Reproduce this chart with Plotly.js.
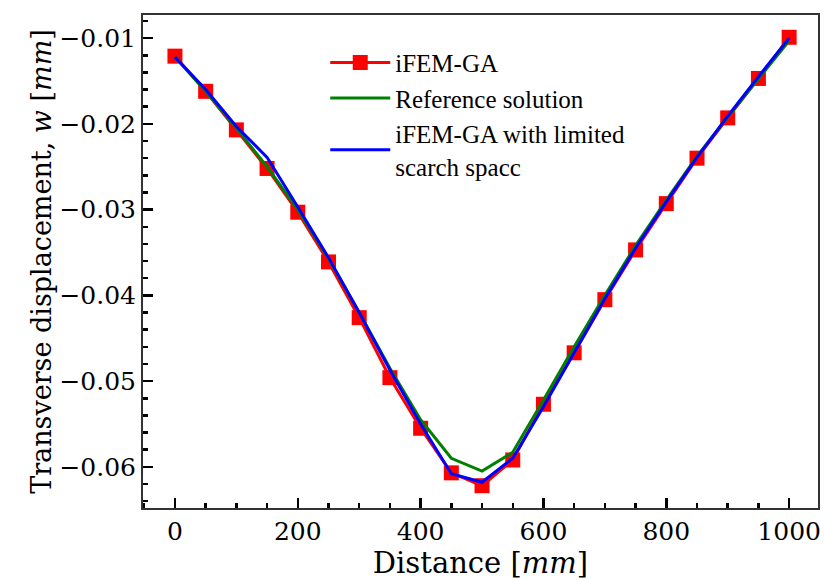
<!DOCTYPE html>
<html>
<head>
<meta charset="utf-8">
<script src="https://cdn.plot.ly/plotly-3.0.1.min.js"></script>
<style>html,body{margin:0;padding:0;background:#fff;}#chart{width:825px;height:580px;}</style>
</head>
<body>
<div id="chart"></div>
<script>
const distance = [0,50,100,150,200,250,300,350,400,450,500,550,600,650,700,750,800,850,900,950,1000];
const ifemGA = [-0.0121,-0.0162,-0.0207,-0.0252,-0.0303,-0.0361,-0.0426,-0.0496,-0.0555,-0.0607,-0.0622,-0.0592,-0.0527,-0.0467,-0.0405,-0.0347,-0.0293,-0.0240,-0.0193,-0.0147,-0.0099];
const reference = [-0.0122,-0.0162,-0.0205,-0.0250,-0.0300,-0.0357,-0.0420,-0.0485,-0.0545,-0.0590,-0.0605,-0.0583,-0.0522,-0.0460,-0.0400,-0.0342,-0.0289,-0.0238,-0.0192,-0.0148,-0.0103];
const limited = [-0.0122,-0.0160,-0.0203,-0.0239,-0.0297,-0.0356,-0.0420,-0.0487,-0.0550,-0.0608,-0.0618,-0.0590,-0.0530,-0.0467,-0.0404,-0.0345,-0.0291,-0.0239,-0.0191,-0.0145,-0.0100];
const seriesNames = ['iFEM-GA','Reference solution','iFEM-GA with limited<br>scarch spacc'];
const yTicks = [-0.06,-0.05,-0.04,-0.03,-0.02,-0.01];
const xTicks = [0,200,400,600,800,1000];
const xTitle = 'Distance [<i>mm</i>]';
const yTitle = 'Transverse displacement, <i>w</i> [<i>mm</i>]';

const tickFont = {family:'DejaVu Serif, serif', size:25, color:'#000'};

const traces = [
  {x:distance, y:ifemGA, name:seriesNames[0], mode:'lines+markers', type:'scatter',
   line:{color:'#ff0000', width:3}, marker:{symbol:'square', size:15, color:'#ff0000'}},
  {x:distance, y:reference, name:seriesNames[1], mode:'lines', type:'scatter',
   line:{color:'#008000', width:3}},
  {x:distance, y:limited, name:seriesNames[2], mode:'lines', type:'scatter',
   line:{color:'#0000ff', width:3}}
];

const layout = {
  width:825, height:580,
  margin:{l:143, r:7, t:15, b:72},
  paper_bgcolor:'#fff', plot_bgcolor:'#fff',
  showlegend:true,
  legend:{x:0.27, y:0.95, xanchor:'left', yanchor:'top', bgcolor:'rgba(0,0,0,0)',
          itemwidth:60,
          font:{family:'Liberation Serif, Times New Roman, serif', size:25, color:'#000'},
          tracegroupgap:0},
  xaxis:{range:[-52,1047], tickvals:xTicks, ticktext:xTicks.map(String),
         ticks:'inside', ticklen:10, tickwidth:2.5, tickcolor:'#000',
         minor:{ticks:'inside', ticklen:5, tickwidth:2.5, tickcolor:'#000', dtick:50, tick0:0, showgrid:false},
         showgrid:false, zeroline:false, showline:true, linecolor:'#333', linewidth:2, mirror:true,
         tickfont:tickFont,
         title:{text:xTitle, font:{family:'DejaVu Serif, serif', size:29, color:'#000'}, standoff:0}},
  yaxis:{range:[-0.0648,-0.0073], tickvals:yTicks, tickformat:'.2f',
         ticks:'inside', ticklen:10, tickwidth:2.5, tickcolor:'#000',
         minor:{ticks:'inside', ticklen:5, tickwidth:2.5, tickcolor:'#000', dtick:0.002, tick0:0, showgrid:false},
         showgrid:false, zeroline:false, showline:true, linecolor:'#333', linewidth:2, mirror:true,
         tickfont:tickFont,
         title:{text:yTitle, font:{family:'DejaVu Serif, serif', size:27, color:'#000'}, standoff:0}}
};

Plotly.newPlot('chart', traces, layout, {displayModeBar:false, staticPlot:true});
</script>
</body>
</html>
